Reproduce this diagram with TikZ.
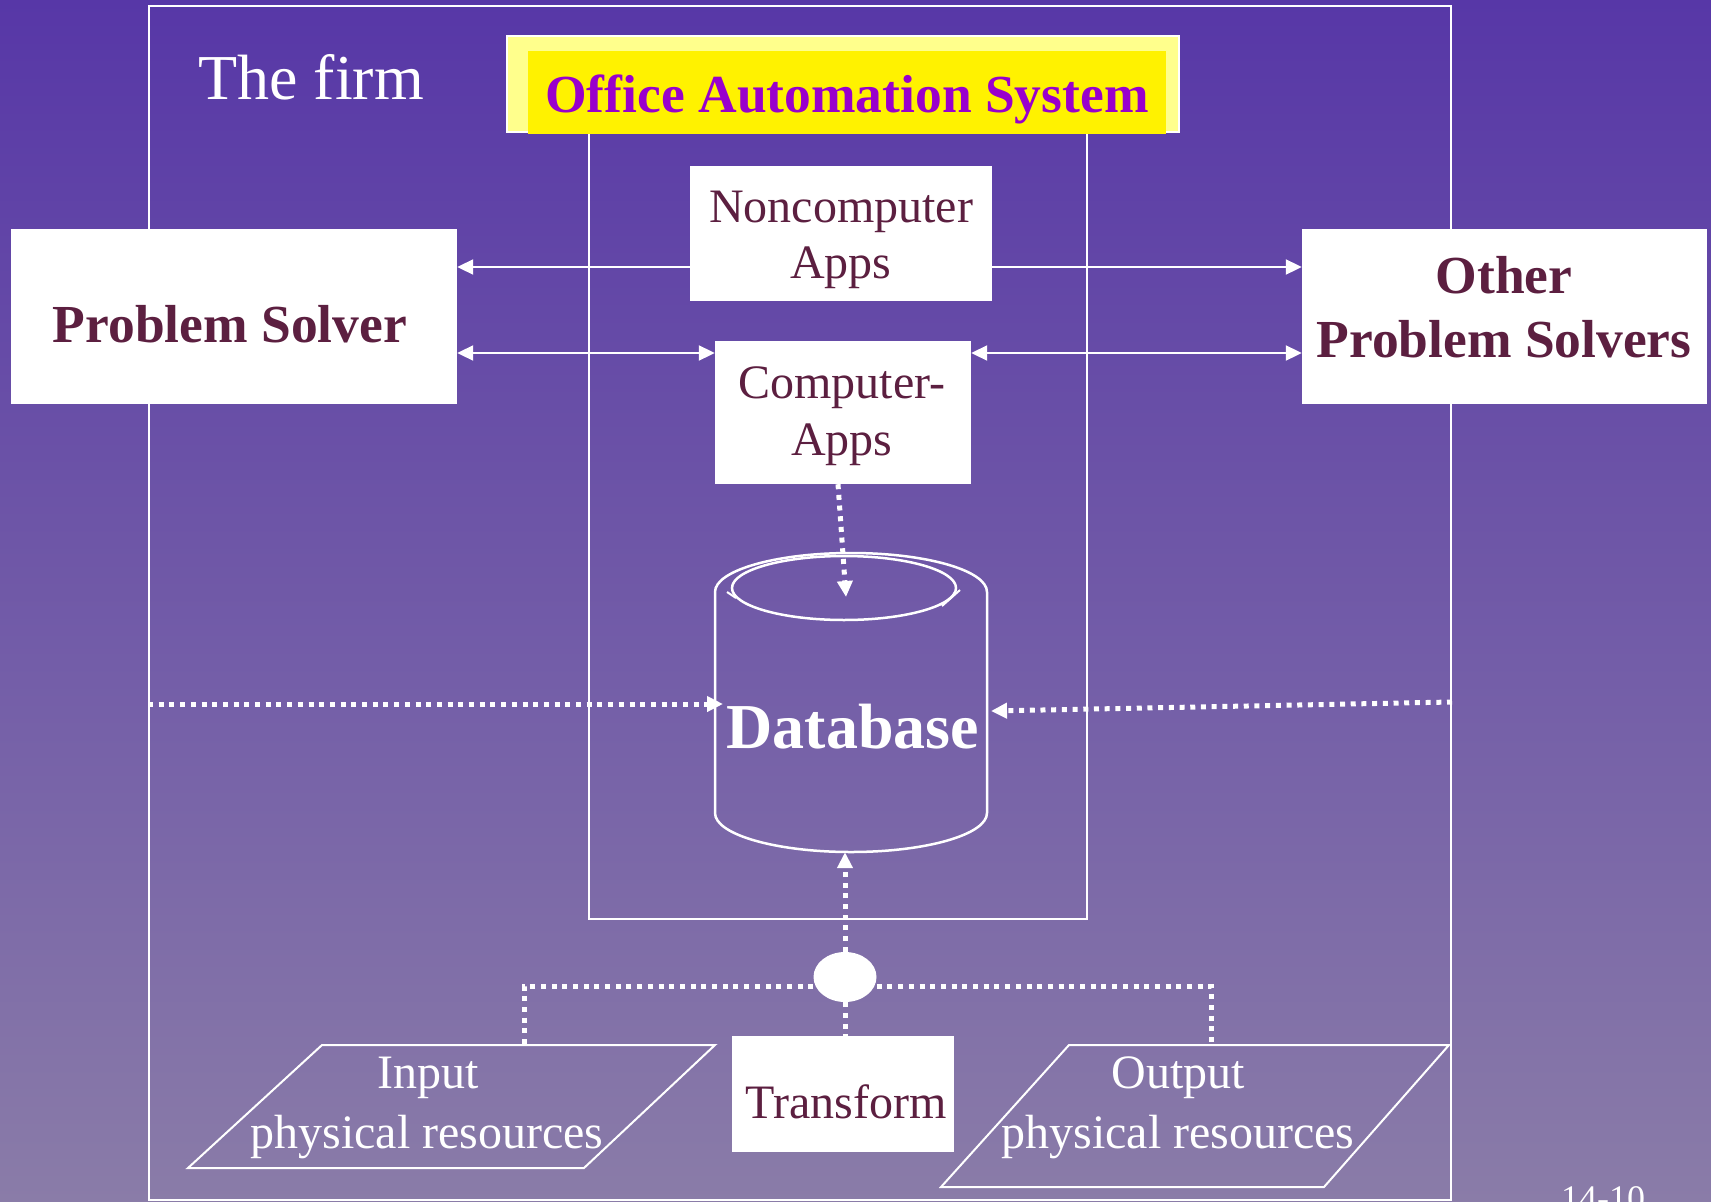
\documentclass[tikz,border=0pt]{standalone}
\usepackage{fontspec}
\setmainfont{Liberation Serif}
\usetikzlibrary{arrows.meta,shapes.geometric}
\definecolor{bgtop}{RGB}{87,55,167}
\definecolor{bgbot}{RGB}{138,124,168}
\definecolor{maroontxt}{RGB}{92,31,64}
\definecolor{oaspurple}{RGB}{153,0,204}
\definecolor{paleyellow}{RGB}{255,255,140}
\begin{document}
\begin{tikzpicture}[x=1pt,y=-1pt,
  wline/.style={draw=white, line width=2pt},
  wbox/.style={fill=white, inner sep=0pt},
  solidarrow/.style={white, line width=2pt, -{Triangle[length=16pt,width=15pt]}},
  biarrow/.style={white, line width=2pt, {Triangle[length=16pt,width=15pt]}-{Triangle[length=16pt,width=15pt]}},
  dotline/.style={white, line width=5pt, dash pattern=on 5pt off 5.7pt},
  dotarrow/.style={dotline, -{Triangle[length=16pt,width=15pt]}},
  reglbl/.style={font=\fontsize{48}{56}\selectfont, text=maroontxt, anchor=base, inner sep=0pt},
  boldlbl/.style={font=\fontsize{53.5}{60}\selectfont\bfseries, text=maroontxt, anchor=base, inner sep=0pt},
  wreglbl/.style={font=\fontsize{48}{56}\selectfont, text=white, anchor=base, inner sep=0pt}
]
\useasboundingbox (0,0) rectangle (1711,1202);
\shade[top color=bgtop, bottom color=bgbot] (0,0) rectangle (1711,1202);

% frames
\node[draw=white, line width=2pt, inner sep=0pt, minimum width=1302pt, minimum height=1194pt] (firm) at (800,603) {};
\node[draw=white, line width=2pt, inner sep=0pt, minimum width=498pt, minimum height=799pt] (oas) at (838,519.5) {};

% title
\node[fill=paleyellow, draw=white, line width=2pt, inner sep=0pt, minimum width=672pt, minimum height=96pt] (oasouter) at (843,84) {};
\node[fill=yellow, inner sep=0pt, minimum width=638pt, minimum height=83pt] (oasinner) at (847,92.5) {};
\node[font=\fontsize{53.5}{60}\selectfont\bfseries, text=oaspurple, anchor=base, inner sep=0pt] (toas) at (847,112) {Office Automation System};
\node[font=\fontsize{64}{70}\selectfont, text=white, anchor=base west, inner sep=0pt] (tfirm) at (198,99) {The firm};

% boxes
\node[wbox, minimum width=446pt, minimum height=175pt] (ps) at (234,316.5) {};
\node[wbox, minimum width=405pt, minimum height=175pt] (ops) at (1504.5,316.5) {};
\node[wbox, minimum width=302pt, minimum height=135pt] (nc) at (841,233.5) {};
\node[wbox, minimum width=256pt, minimum height=143pt] (ca) at (843,412.5) {};
\node[wbox, minimum width=222pt, minimum height=116pt] (tr) at (843,1094) {};

\node[reglbl] (tnc1) at (841,222) {Noncomputer};
\node[reglbl] (tnc2) at (841,278) {Apps};
\node[reglbl] (tca1) at (842,398) {Computer-};
\node[reglbl] (tca2) at (842,455) {Apps};
\node[boldlbl] (tps) at (230,342) {Problem Solver};
\node[boldlbl] (tops1) at (1504,293) {Other};
\node[boldlbl] (tops2) at (1504,357) {Problem Solvers};
\node[reglbl] (ttr) at (846,1118) {Transform};

% solid connectors
\coordinate (yu) at (0,267);
\coordinate (yl) at (0,353);
\draw[solidarrow] (nc.west |- yu) -- (ps.east |- yu);
\draw[solidarrow] (nc.east |- yu) -- (ops.west |- yu);
\draw[biarrow] (ps.east |- yl) -- (ca.west |- yl);
\draw[biarrow] (ca.east |- yl) -- (ops.west |- yl);

% database
\node[inner sep=0pt, minimum width=272pt, minimum height=299pt] (db) at (851,702.5) {};
\draw[white, line width=2.5pt] (715,813) -- (715,592) arc[start angle=180,end angle=360,x radius=136,y radius=39] -- (987,813) arc[start angle=0,end angle=180,x radius=136,y radius=39];
\draw[white, line width=2.5pt] (844,588) ellipse[x radius=112,y radius=32];
\draw[white, line width=2pt] (727,592) -- (736,598);
\draw[white, line width=2pt] (960,590) -- (942,606);
\node[font=\fontsize{64}{70}\selectfont\bfseries, text=white, anchor=base, inner sep=0pt] (tdb) at (853,748) {Database};

% dotted connectors
\coordinate (dbin) at (846,597);
\draw[dotarrow] ([xshift=-5pt]ca.south) -- (dbin);
\coordinate (yl2) at (0,704);
\coordinate (dbl) at (723,704);
\draw[dotarrow] (firm.west |- yl2) -- (dbl);
\coordinate (yr1) at (0,702);
\coordinate (dbr) at (991,711);
\draw[dotarrow] (firm.east |- yr1) -- (dbr);

\node[ellipse, fill=white, inner sep=0pt, minimum width=63pt, minimum height=50pt] (joint) at (845,977) {};
\draw[dotarrow] (joint.north) -- (db.south -| joint.north);
\draw[dotline] (joint.south) -- (tr.north -| joint.south);
\coordinate (yh) at (0,986);
\coordinate (inTop) at (524,1045);
\coordinate (outTop) at (1211,1045);
\draw[dotline] (joint.west |- yh) -| (inTop);
\draw[dotline] (joint.east |- yh) -| (outTop);

% resources
\draw[wline] (322,1045) -- (715,1045) -- (584,1168) -- (188,1168) -- cycle;
\draw[wline] (1069,1045) -- (1449,1045) -- (1324,1187) -- (941,1187) -- cycle;
\node[wreglbl] (tin1) at (428,1088) {Input};
\node[wreglbl] (tin2) at (427,1148) {physical resources};
\node[wreglbl] (tout1) at (1178,1088) {Output};
\node[wreglbl] (tout2) at (1178,1148) {physical resources};

\node[font=\fontsize{36}{40}\selectfont, text=white, anchor=base west, inner sep=0pt] (pagenum) at (1561,1210) {14-10};
\end{tikzpicture}
\end{document}
